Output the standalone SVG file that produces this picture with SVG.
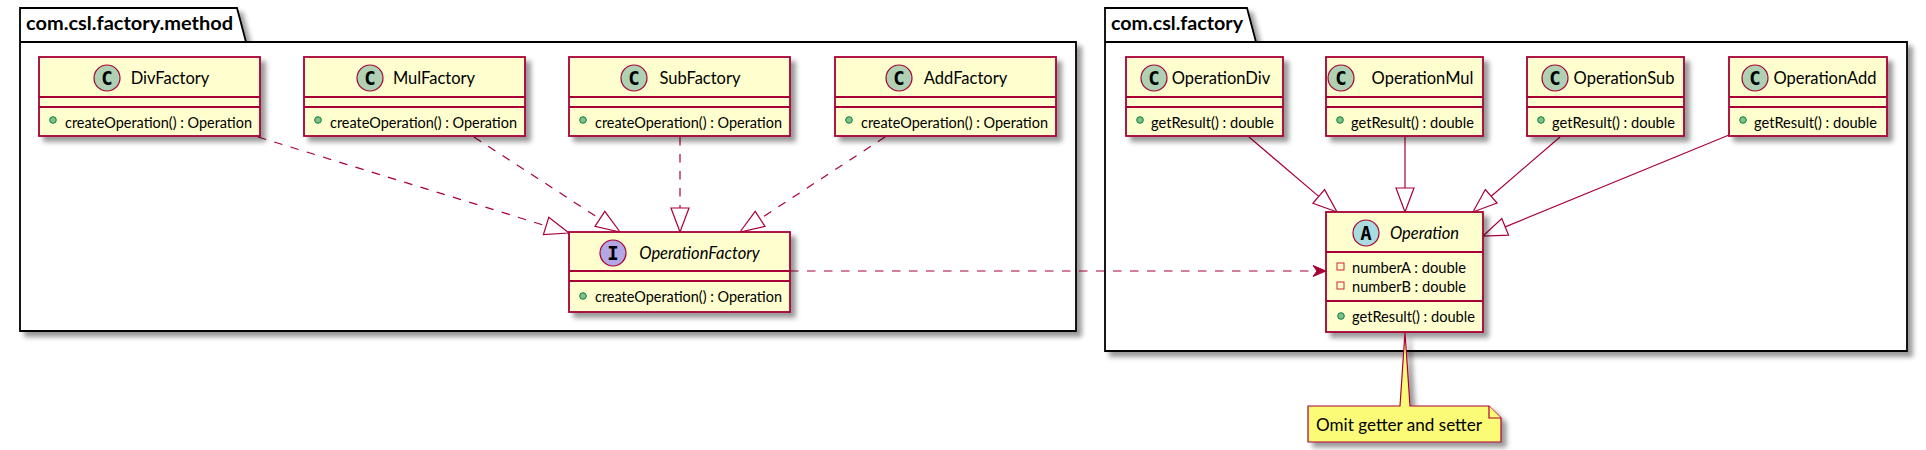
<svg xmlns="http://www.w3.org/2000/svg" width="1926" height="450" viewBox="0 0 1926 450">
<defs>
<filter id="sh" x="-10%" y="-10%" width="130%" height="140%">
<feGaussianBlur in="SourceAlpha" stdDeviation="2.4" result="b"/>
<feColorMatrix in="b" type="matrix" values="0 0 0 0 0  0 0 0 0 0  0 0 0 0 0  0 0 0 .4 0" result="b2"/>
<feOffset in="b2" dx="5" dy="5" result="b3"/>
<feMerge><feMergeNode in="b3"/><feMergeNode in="SourceGraphic"/></feMerge>
</filter>
<marker id="dep" viewBox="0 0 14 12" refX="13" refY="6" markerWidth="14" markerHeight="12" markerUnits="userSpaceOnUse" orient="auto">
<polygon points="13,6 0,0.5 4,6 0,11.5" fill="#A80036" stroke="#A80036" stroke-width="1"/>
</marker>
</defs>
<style>
.pkg{fill:#FFFFFF;stroke:#000000;stroke-width:1.8}
.pl{font-family:Lato,"Liberation Sans",sans-serif;font-weight:bold;font-size:19px;fill:#000}
.box{fill:#FEFECE;stroke:#A80036;stroke-width:1.8}
.sep{stroke:#A80036;stroke-width:1.8}
.cc{fill:#ADD1B2;stroke:#A80036;stroke-width:1.2}
.ci{fill:#B4A7E5;stroke:#A80036;stroke-width:1.2}
.ca{fill:#A9DCDF;stroke:#A80036;stroke-width:1.2}
.gl{font-family:"DejaVu Sans Mono",monospace;font-weight:bold;font-size:19px;fill:#000;text-anchor:middle}
.nm{font-family:Lato,"Liberation Sans",sans-serif;font-size:16.5px;fill:#000;text-anchor:middle}
.it{font-style:italic}
.mb{font-family:Lato,"Liberation Sans",sans-serif;font-size:14.5px;fill:#000}
.dot{fill:#84BE84;stroke:#038048;stroke-width:1}
.sq{fill:none;stroke:#C82930;stroke-width:1}
.ln{fill:none;stroke:#A80036;stroke-width:1.2}
.dash{stroke-dasharray:8.5,8.5}
.tri{fill:none;stroke:#A80036;stroke-width:1.2}
.note{fill:#FBFB77;stroke:#A80036;stroke-width:1.2}
.nt{font-family:Lato,"Liberation Sans",sans-serif;font-size:17px;fill:#000}
</style>
<rect width="1926" height="450" fill="#FFFFFF"/>

<g id="pkg-method">
<path class="pkg" filter="url(#sh)" d="M20,8 L237,8 L246,42 L1076,42 L1076,331 L20,331 Z"/>
<line x1="20" y1="42" x2="246" y2="42" stroke="#000" stroke-width="1.8"/>
<text class="pl" x="26" y="30" textLength="207" lengthAdjust="spacingAndGlyphs">com.csl.factory.method</text>
</g>
<g id="pkg-factory">
<path class="pkg" filter="url(#sh)" d="M1105,8 L1247,8 L1256,42 L1907,42 L1907,351 L1105,351 Z"/>
<line x1="1105" y1="42" x2="1256" y2="42" stroke="#000" stroke-width="1.8"/>
<text class="pl" x="1111" y="30" textLength="132" lengthAdjust="spacingAndGlyphs">com.csl.factory</text>
</g>

<g id="connectors">
<line class="ln dash" x1="258" y1="137" x2="546.1" y2="225.9"/>
<polygon class="tri" points="569,233 543.4,234.5 548.8,217.3"/>
<line class="ln dash" x1="474" y1="137" x2="599.9" y2="218.9"/>
<polygon class="tri" points="620,232 595,226.4 604.8,211.4"/>
<line class="ln dash" x1="680" y1="137" x2="680" y2="208"/>
<polygon class="tri" points="680,232 671,208 689,208"/>
<line class="ln dash" x1="885" y1="137" x2="760.1" y2="218.8"/>
<polygon class="tri" points="740,232 755.2,211.3 765,226.4"/>
<line class="ln dash" x1="790" y1="271" x2="1326" y2="271" marker-end="url(#dep)"/>
<line class="ln" x1="1249" y1="137" x2="1318.7" y2="196.4"/>
<polygon class="tri" points="1337,212 1312.9,203.3 1324.6,189.6"/>
<line class="ln" x1="1405" y1="137" x2="1405" y2="188"/>
<polygon class="tri" points="1405,212 1396,188 1414,188"/>
<line class="ln" x1="1560" y1="137" x2="1491.2" y2="196.3"/>
<polygon class="tri" points="1473,212 1485.3,189.5 1497.1,203.1"/>
<line class="ln" x1="1729" y1="135" x2="1505.2" y2="226.9"/>
<polygon class="tri" points="1483,236 1501.8,218.6 1508.6,235.2"/>
</g>

<g id="DivFactory">
<rect class="box" filter="url(#sh)" x="39" y="57" width="221" height="79"/>
<line class="sep" x1="39" y1="97" x2="260" y2="97"/><line class="sep" x1="39" y1="107" x2="260" y2="107"/>
<circle class="cc" cx="107" cy="78" r="13"/><text class="gl" x="107" y="85">C</text>
<text class="nm" x="170" y="84">DivFactory</text>
<circle class="dot" cx="53" cy="120" r="3.3"/><text class="mb" x="65" y="128" textLength="187" lengthAdjust="spacingAndGlyphs">createOperation() : Operation</text>
</g>
<g id="MulFactory">
<rect class="box" filter="url(#sh)" x="304" y="57" width="221" height="79"/>
<line class="sep" x1="304" y1="97" x2="525" y2="97"/><line class="sep" x1="304" y1="107" x2="525" y2="107"/>
<circle class="cc" cx="370" cy="78" r="13"/><text class="gl" x="370" y="85">C</text>
<text class="nm" x="434" y="84">MulFactory</text>
<circle class="dot" cx="318" cy="120" r="3.3"/><text class="mb" x="330" y="128" textLength="187" lengthAdjust="spacingAndGlyphs">createOperation() : Operation</text>
</g>
<g id="SubFactory">
<rect class="box" filter="url(#sh)" x="569" y="57" width="221" height="79"/>
<line class="sep" x1="569" y1="97" x2="790" y2="97"/><line class="sep" x1="569" y1="107" x2="790" y2="107"/>
<circle class="cc" cx="634" cy="78" r="13"/><text class="gl" x="634" y="85">C</text>
<text class="nm" x="700" y="84">SubFactory</text>
<circle class="dot" cx="583" cy="120" r="3.3"/><text class="mb" x="595" y="128" textLength="187" lengthAdjust="spacingAndGlyphs">createOperation() : Operation</text>
</g>
<g id="AddFactory">
<rect class="box" filter="url(#sh)" x="835" y="57" width="221" height="79"/>
<line class="sep" x1="835" y1="97" x2="1056" y2="97"/><line class="sep" x1="835" y1="107" x2="1056" y2="107"/>
<circle class="cc" cx="899" cy="78" r="13"/><text class="gl" x="899" y="85">C</text>
<text class="nm" x="965.5" y="84">AddFactory</text>
<circle class="dot" cx="849" cy="120" r="3.3"/><text class="mb" x="861" y="128" textLength="187" lengthAdjust="spacingAndGlyphs">createOperation() : Operation</text>
</g>
<g id="OperationFactory">
<rect class="box" filter="url(#sh)" x="569" y="232" width="221" height="80"/>
<line class="sep" x1="569" y1="271" x2="790" y2="271"/><line class="sep" x1="569" y1="281" x2="790" y2="281"/>
<circle class="ci" cx="613" cy="253" r="13"/><text class="gl" x="613" y="260">I</text>
<text class="nm it" x="699.5" y="259">OperationFactory</text>
<circle class="dot" cx="583" cy="296" r="3.3"/><text class="mb" x="595" y="302" textLength="187" lengthAdjust="spacingAndGlyphs">createOperation() : Operation</text>
</g>

<g id="OperationDiv">
<rect class="box" filter="url(#sh)" x="1126" y="57" width="157" height="79"/>
<line class="sep" x1="1126" y1="97" x2="1283" y2="97"/><line class="sep" x1="1126" y1="107" x2="1283" y2="107"/>
<circle class="cc" cx="1154" cy="78" r="13"/><text class="gl" x="1154" y="85">C</text>
<text class="nm" x="1221" y="84">OperationDiv</text>
<circle class="dot" cx="1140" cy="120" r="3.3"/><text class="mb" x="1151" y="128" textLength="123" lengthAdjust="spacingAndGlyphs">getResult() : double</text>
</g>
<g id="OperationMul">
<rect class="box" filter="url(#sh)" x="1326" y="57" width="157" height="79"/>
<line class="sep" x1="1326" y1="97" x2="1483" y2="97"/><line class="sep" x1="1326" y1="107" x2="1483" y2="107"/>
<circle class="cc" cx="1341" cy="78" r="13"/><text class="gl" x="1341" y="85">C</text>
<text class="nm" x="1422.5" y="84">OperationMul</text>
<circle class="dot" cx="1340" cy="120" r="3.3"/><text class="mb" x="1351" y="128" textLength="123" lengthAdjust="spacingAndGlyphs">getResult() : double</text>
</g>
<g id="OperationSub">
<rect class="box" filter="url(#sh)" x="1527" y="57" width="157" height="79"/>
<line class="sep" x1="1527" y1="97" x2="1684" y2="97"/><line class="sep" x1="1527" y1="107" x2="1684" y2="107"/>
<circle class="cc" cx="1555" cy="78" r="13"/><text class="gl" x="1555" y="85">C</text>
<text class="nm" x="1624" y="84">OperationSub</text>
<circle class="dot" cx="1541" cy="120" r="3.3"/><text class="mb" x="1552" y="128" textLength="123" lengthAdjust="spacingAndGlyphs">getResult() : double</text>
</g>
<g id="OperationAdd">
<rect class="box" filter="url(#sh)" x="1729" y="57" width="158" height="79"/>
<line class="sep" x1="1729" y1="97" x2="1887" y2="97"/><line class="sep" x1="1729" y1="107" x2="1887" y2="107"/>
<circle class="cc" cx="1755" cy="78" r="13"/><text class="gl" x="1755" y="85">C</text>
<text class="nm" x="1825" y="84">OperationAdd</text>
<circle class="dot" cx="1743" cy="120" r="3.3"/><text class="mb" x="1754" y="128" textLength="123" lengthAdjust="spacingAndGlyphs">getResult() : double</text>
</g>
<g id="Operation">
<rect class="box" filter="url(#sh)" x="1326" y="212" width="157" height="120"/>
<line class="sep" x1="1326" y1="252" x2="1483" y2="252"/><line class="sep" x1="1326" y1="301" x2="1483" y2="301"/>
<circle class="ca" cx="1366" cy="233" r="13"/><text class="gl" x="1366" y="240">A</text>
<text class="nm it" x="1424.5" y="239">Operation</text>
<rect class="sq" x="1337" y="263" width="7" height="7"/><text class="mb" x="1352" y="273" textLength="114" lengthAdjust="spacingAndGlyphs">numberA : double</text>
<rect class="sq" x="1337" y="282" width="7" height="7"/><text class="mb" x="1352" y="292" textLength="114" lengthAdjust="spacingAndGlyphs">numberB : double</text>
<circle class="dot" cx="1341" cy="316" r="3.3"/><text class="mb" x="1352" y="322" textLength="123" lengthAdjust="spacingAndGlyphs">getResult() : double</text>
</g>

<g id="note">
<path class="note" filter="url(#sh)" d="M1308,406 L1400,406 L1405,332 L1410,406 L1489,406 L1501,418 L1501,442 L1308,442 Z"/>
<path class="note" d="M1489,406 L1489,418 L1501,418"/>
<text class="nt" x="1316" y="431" textLength="166" lengthAdjust="spacingAndGlyphs">Omit getter and setter</text>
</g>
</svg>
